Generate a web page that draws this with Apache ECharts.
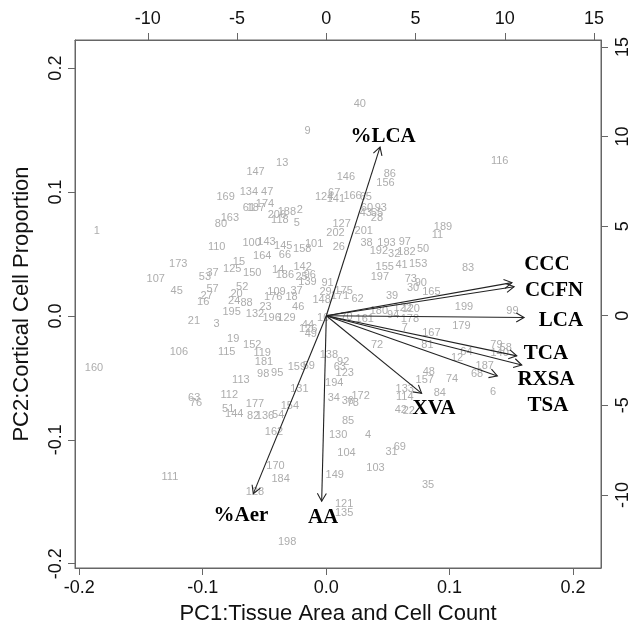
<!DOCTYPE html>
<html>
<head>
<meta charset="utf-8">
<script src="https://cdn.jsdelivr.net/npm/echarts@6/dist/echarts.min.js"></script>
<style>html,body{margin:0;padding:0;background:#fff}#c{width:633px;height:635px}</style>
</head>
<body>
<div id="c"></div>
<script>
// Observation labels (PC1 / PC2 scores, bottom/left axes)
const obsLabels = ["1","160","107","173","45","110","169","163","80","147","13","134","47","61","187","174","206","188","2","118","5","40","9","146","86","156","124","67","141","166","65","60","93","43","55","28","127","202","201","143","116","189","11","53","37","15","125","57","27","16","52","20","24","88","195","21","3","19","106","115","113","100","145","158","101","26","38","193","192","32","97","182","50","164","66","150","14","186","142","25","96","139","91","175","29","171","148","62","39","109","176","37","18","46","23","132","196","129","10","44","126","49","180","94","161","70","72","138","92","63","123","194","152","119","181","98","95","159","59","131","133","114","42","22","84","6","41","153","155","197","83","73","30","90","165","199","99","122","120","178","7","179","167","81","12","64","79","140","58","187","68","48","157","74","34","36","78","172","177","144","51","82","136","54","154","85","162","130","4","104","31","69","103","170","184","149","128","121","135","198","63","76","112","111","35"];
const obsX = [-0.1859,-0.1881,-0.1381,-0.1198,-0.1211,-0.0887,-0.0815,-0.078,-0.0853,-0.0572,-0.0356,-0.0626,-0.0478,-0.0626,-0.0569,-0.0496,-0.0399,-0.0318,-0.0213,-0.0375,-0.0237,0.0273,-0.0151,0.016,0.0516,0.0481,-0.0016,0.0065,0.0079,0.0214,0.0321,0.033,0.0443,0.0321,0.0411,0.0411,0.0125,0.0076,0.0305,-0.0483,0.1406,0.0947,0.0902,-0.0982,-0.092,-0.0707,-0.0761,-0.092,-0.0968,-0.0996,-0.068,-0.0726,-0.0745,-0.0645,-0.0766,-0.1071,-0.0887,-0.0753,-0.1193,-0.0806,-0.0691,-0.0604,-0.0348,-0.0194,-0.0097,0.0103,0.0327,0.0489,0.0427,0.0551,0.0637,0.0651,0.0785,-0.0518,-0.0334,-0.0599,-0.0389,-0.0334,-0.0191,-0.0199,-0.0132,-0.0151,0.0011,0.0143,-0.0005,0.0111,-0.0037,0.0254,0.0534,-0.0402,-0.0429,-0.024,-0.028,-0.0227,-0.0491,-0.0577,-0.0442,-0.0321,-0.0024,-0.0148,-0.0146,-0.0124,0.0427,0.0543,0.0313,0.0165,0.0413,0.0022,0.0138,0.0111,0.0151,0.0066,-0.0599,-0.0518,-0.0504,-0.051,-0.0397,-0.0237,-0.014,-0.0217,0.0637,0.0637,0.0605,0.067,0.0921,0.1352,0.0611,0.0745,0.0475,0.0435,0.115,0.0686,0.0704,0.0767,0.0853,0.1117,0.1509,0.0621,0.0686,0.0678,0.0637,0.1096,0.0853,0.0821,0.1061,0.1137,0.138,0.1406,0.1455,0.1285,0.1223,0.0832,0.0799,0.102,0.0062,0.0176,0.0216,0.0279,-0.0577,-0.0745,-0.0794,-0.0591,-0.0496,-0.0389,-0.0294,0.0178,-0.0423,0.0097,0.034,0.0165,0.053,0.0597,0.04,-0.041,-0.0369,0.007,-0.0577,0.0146,0.0146,-0.0316,-0.1069,-0.1055,-0.0785,-0.1266,0.0826];
const obsY = [0.0688,-0.0417,0.0299,0.0417,0.0204,0.0559,0.0958,0.0789,0.0743,0.1165,0.1237,0.0998,0.0998,0.0872,0.0872,0.0904,0.0815,0.0839,0.0856,0.0775,0.0751,0.1711,0.1496,0.1119,0.1144,0.1076,0.0963,0.0995,0.0944,0.0971,0.0958,0.0872,0.0872,0.0831,0.0831,0.0789,0.074,0.0667,0.0686,0.06,0.1253,0.0716,0.0654,0.0317,0.0345,0.0433,0.0379,0.0218,0.0164,0.0115,0.0236,0.0178,0.0123,0.0103,0.0035,-0.0038,-0.0065,-0.0188,-0.0293,-0.0293,-0.0517,0.0587,0.0567,0.0541,0.0579,0.0559,0.0587,0.0587,0.0525,0.05,0.0595,0.0519,0.0541,0.0487,0.0492,0.0345,0.0371,0.0331,0.0398,0.0317,0.0331,0.0277,0.0264,0.0204,0.0191,0.0164,0.0129,0.0135,0.0161,0.0196,0.0156,0.0202,0.0156,0.007,0.0075,0.0014,-0.0014,-0.0019,-0.0019,-0.0073,-0.0107,-0.0148,0.004,0.0008,-0.0027,-0.001,-0.0234,-0.0315,-0.0369,-0.0409,-0.0458,-0.0543,-0.0234,-0.0301,-0.0374,-0.0471,-0.0458,-0.0412,-0.0404,-0.0593,-0.0592,-0.0656,-0.0759,-0.0767,-0.0624,-0.0611,0.0409,0.0417,0.0398,0.0312,0.039,0.0296,0.0228,0.0264,0.0191,0.0075,0.004,0.0061,0.0052,-0.0027,-0.0099,-0.0078,-0.0135,-0.0234,-0.0337,-0.0288,-0.0234,-0.0296,-0.0261,-0.0404,-0.0471,-0.045,-0.0517,-0.0511,-0.0664,-0.0686,-0.0702,-0.0643,-0.071,-0.0793,-0.0753,-0.0807,-0.0807,-0.0799,-0.0724,-0.0845,-0.0934,-0.096,-0.096,-0.1108,-0.1095,-0.106,-0.1229,-0.1211,-0.1316,-0.1283,-0.1418,-0.152,-0.1588,-0.1826,-0.0664,-0.07,-0.0638,-0.1297,-0.1364];

// Variable loadings (top/right axes)
const varNames = ["%LCA","CCC","CCFN","LCA","TCA","RXSA","TSA","XVA","AA","%Aer"];
const varX = [3.01,10.40,10.52,11.08,10.67,10.95,9.58,5.34,-0.26,-4.09];
const varY = [9.41,1.85,1.62,-0.10,-2.24,-2.75,-3.36,-4.33,-10.35,-9.93];
const varLabelX = [3.18,12.36,12.76,13.15,12.31,12.31,12.42,6.03,-0.18,-4.78];
const varLabelY = [9.98,2.88,1.38,-0.26,-2.12,-3.58,-5.03,-5.18,-11.28,-11.17];

// Tick values
const pcTicks = [-0.2,-0.1,0,0.1,0.2];
const loadTicks = [-10,-5,0,5,10,15];

const axisCol = '#666';
const sans = 'Liberation Sans, Arial, sans-serif';

function axis(pos, min, max, ticks, fmt, margin, extra) {
  const isY = pos === 'left' || pos === 'right';
  return Object.assign({
    type: 'value', position: pos, min: min, max: max,
    axisLine: {show: true, onZero: false, lineStyle: {color: axisCol, width: 1}},
    axisTick: {show: true, inside: false, length: 7, customValues: ticks, lineStyle: {color: axisCol, width: 1}},
    axisLabel: {show: true, customValues: ticks, formatter: fmt, fontSize: 18, color: '#111',
      fontFamily: sans, margin: margin, rotate: isY ? 90 : 0},
    splitLine: {show: false}
  }, extra || {});
}

const chart = echarts.init(document.getElementById('c'));
chart.setOption({
  animation: false,
  backgroundColor: '#fff',
  grid: {left: 75, right: 32, top: 40, bottom: 67, show: true, borderColor: axisCol, borderWidth: 1},
  xAxis: [
    axis('bottom', -0.2035, 0.2227, pcTicks, v => v.toFixed(1), 11, {
      name: 'PC1:Tissue Area and Cell Count', nameLocation: 'middle', nameGap: 35,
      nameTextStyle: {fontSize: 22, color: '#111', fontFamily: sans}}),
    axis('top', -14.08, 15.39, loadTicks, v => String(v), 12)
  ],
  yAxis: [
    axis('left', -0.2035, 0.2227, pcTicks, v => v.toFixed(1), 10, {
      name: 'PC2:Cortical Cell Proportion', nameLocation: 'middle', nameGap: 42,
      nameTextStyle: {fontSize: 22, color: '#111', fontFamily: sans}}),
    axis('right', -14.08, 15.39, loadTicks, v => String(v), 13)
  ],
  series: [
    {
      type: 'custom', xAxisIndex: 0, yAxisIndex: 0, silent: true,
      data: obsX.map((x, i) => [x, obsY[i], obsLabels[i]]),
      renderItem: function (params, api) {
        const p = api.coord([api.value(0), api.value(1)]);
        return {type: 'text', x: p[0], y: p[1], style: {
          text: obsLabels[params.dataIndex], fill: '#adadad', fontSize: 11, fontFamily: sans,
          align: 'center', verticalAlign: 'middle'}};
      }
    },
    {
      type: 'custom', xAxisIndex: 1, yAxisIndex: 1, silent: true, z: 3,
      data: varX.map((x, i) => [x, varY[i]]),
      renderItem: function (params, api) {
        const o = api.coord([0, 0]);
        const t = api.coord([api.value(0), api.value(1)]);
        const ang = Math.atan2(t[1] - o[1], t[0] - o[0]);
        const L = 9, a = Math.PI / 6;
        const h1 = [t[0] - L * Math.cos(ang - a), t[1] - L * Math.sin(ang - a)];
        const h2 = [t[0] - L * Math.cos(ang + a), t[1] - L * Math.sin(ang + a)];
        const st = {stroke: '#222', lineWidth: 1.1, fill: null};
        return {type: 'group', children: [
          {type: 'line', shape: {x1: o[0], y1: o[1], x2: t[0], y2: t[1]}, style: st},
          {type: 'polyline', shape: {points: [h1, t, h2]}, style: st}
        ]};
      }
    },
    {
      type: 'custom', xAxisIndex: 1, yAxisIndex: 1, silent: true, z: 4,
      data: varLabelX.map((x, i) => [x, varLabelY[i]]),
      renderItem: function (params, api) {
        const p = api.coord([api.value(0), api.value(1)]);
        return {type: 'text', x: p[0], y: p[1], style: {
          text: varNames[params.dataIndex], fill: '#000', fontSize: 21, fontWeight: 'bold',
          fontFamily: 'Liberation Serif, Times New Roman, serif', align: 'center', verticalAlign: 'middle'}};
      }
    }
  ]
});
</script>
</body>
</html>
